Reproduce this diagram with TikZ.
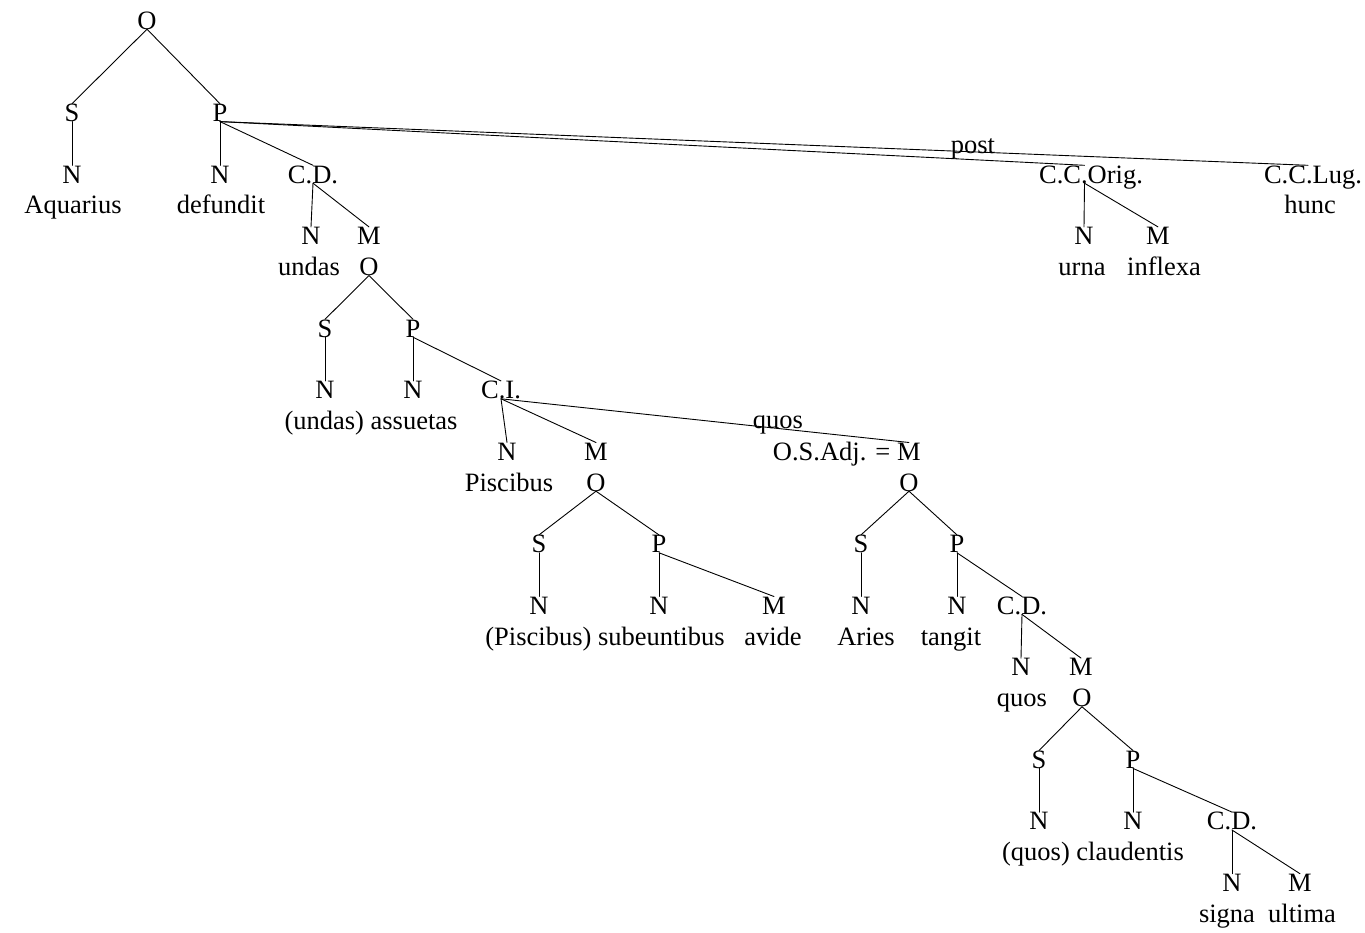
\documentclass[tikz,border=0pt]{standalone}
\usepackage{fontspec}
\setmainfont{Liberation Serif}
\begin{document}
\begin{tikzpicture}[x=1pt, y=-1pt,
  every node/.style={font=\fontsize{26.5pt}{30pt}\selectfont},
  tn/.style={inner sep=0pt, anchor=base, text height=17.5pt, text depth=0pt},
  wd/.style={inner sep=0pt, anchor=base},
  br/.style={line width=0.9pt, line cap=round}]
\useasboundingbox (0,0) rectangle (1365,932);

% --- main clause ---
\node[tn] (o0) at (147,29) {O};
\node[tn] (s1) at (72,121.4) {S};
\node[tn] (p1) at (220,121.4) {P};
\node[tn] (n1) at (72,183) {N};
\node[tn] (n2) at (220,183) {N};
\node[tn] (cd1) at (313,183) {C.D.};
\node[tn] (cco) at (1091,183) {C.C.Orig.};
\node[tn] (ccl) at (1313,183) {C.C.Lug.};
\node[wd] (w-aquarius) at (73,213.8) {Aquarius};
\node[wd] (w-defundit) at (221,213.8) {defundit};
\node[wd] (w-hunc) at (1310,213.8) {hunc};
\node[wd] (l-post) at (973,153) {post};

\node[tn] (n3) at (311,244.6) {N};
\node[tn] (m1) at (369,244.6) {M};
\node[tn] (n4) at (1084,244.6) {N};
\node[tn] (m2) at (1158,244.6) {M};
\node[wd] (w-undas) at (309,275.4) {undas};
\node[wd] (w-urna) at (1082,275.4) {urna};
\node[wd] (w-inflexa) at (1164,275.4) {inflexa};

% --- clause under C.D. ---
\node[tn] (o2) at (369,275.4) {O};
\node[tn] (s2) at (325,337) {S};
\node[tn] (p2) at (413,337) {P};
\node[tn] (n5) at (325,398.6) {N};
\node[tn] (n6) at (413,398.6) {N};
\node[tn] (ci) at (501,398.6) {C.I.};
\node[wd] (w-assuetas) at (371,429.4) {(undas) assuetas};
\node[wd] (l-quos) at (778,428) {quos};

\node[tn] (n7) at (507,460.2) {N};
\node[tn] (m3) at (596,460.2) {M};
\node[tn] (osm) at (909,460.2) {M};
\node[wd, anchor=base east] (osadj) at ([xshift=-6.6pt]osm.base west) {O.S.Adj. =};
\node[wd] (w-piscibus) at (509,491) {Piscibus};

% --- clause under M (C.I.) ---
\node[tn] (o3) at (596,491) {O};
\node[tn] (s3) at (539,552.6) {S};
\node[tn] (p3) at (659,552.6) {P};
\node[tn] (n8) at (539,614.2) {N};
\node[tn] (n9) at (659,614.2) {N};
\node[tn] (m4) at (774,614.2) {M};
\node[wd] (w-subeuntibus) at (605,645) {(Piscibus) subeuntibus};
\node[wd] (w-avide) at (773,645) {avide};

% --- adjective clause ---
\node[tn] (o4) at (909,491) {O};
\node[tn] (s4) at (861,552.6) {S};
\node[tn] (p4) at (957,552.6) {P};
\node[tn] (n10) at (861,614.2) {N};
\node[tn] (n11) at (957,614.2) {N};
\node[tn] (cd2) at (1022,614.2) {C.D.};
\node[wd] (w-aries) at (866,645) {Aries};
\node[wd] (w-tangit) at (951,645) {tangit};
\node[tn] (n12) at (1021,675.8) {N};
\node[tn] (m5) at (1081,675.8) {M};
\node[wd] (w-quos) at (1022,706.6) {quos};

% --- clause under M (C.D.) ---
\node[tn] (o5) at (1082,706.6) {O};
\node[tn] (s5) at (1039,768.2) {S};
\node[tn] (p5) at (1133,768.2) {P};
\node[tn] (n13) at (1039,829.8) {N};
\node[tn] (n14) at (1133,829.8) {N};
\node[tn] (cd3) at (1232,829.8) {C.D.};
\node[wd] (w-claudentis) at (1093,860.6) {(quos) claudentis};
\node[tn] (n15) at (1232,891.4) {N};
\node[tn] (m6) at (1300,891.4) {M};
\node[wd] (w-signa) at (1227,922.2) {signa};
\node[wd] (w-ultima) at (1302,922.2) {ultima};

% --- branches ---
\draw[br] (o0.south) -- (s1.north);
\draw[br] (o0.south) -- (p1.north);
\draw[br] (s1.south) -- (n1.north);
\draw[br] (p1.south) -- (n2.north);
\draw[br] (p1.south) -- (cd1.north);
\draw[br] (p1.south) -- ([xshift=-6.5pt]cco.north);
\draw[br] (p1.south) -- ([xshift=-5pt]ccl.north);
\draw[br] (cd1.south) -- (n3.north);
\draw[br] (cd1.south) -- (m1.north);
\draw[br] ([xshift=-6.5pt]cco.south) -- (n4.north);
\draw[br] ([xshift=-6.5pt]cco.south) -- (m2.north);

\draw[br] (o2.south) -- (s2.north);
\draw[br] (o2.south) -- (p2.north);
\draw[br] (s2.south) -- (n5.north);
\draw[br] (p2.south) -- (n6.north);
\draw[br] (p2.south) -- (ci.north);
\draw[br] (ci.south) -- (n7.north);
\draw[br] (ci.south) -- (m3.north);
\draw[br] (ci.south) -- (osm.north);

\draw[br] (o3.south) -- (s3.north);
\draw[br] (o3.south) -- (p3.north);
\draw[br] (s3.south) -- (n8.north);
\draw[br] (p3.south) -- (n9.north);
\draw[br] (p3.south) -- (m4.north);

\draw[br] (o4.south) -- (s4.north);
\draw[br] (o4.south) -- (p4.north);
\draw[br] (s4.south) -- (n10.north);
\draw[br] (p4.south) -- (n11.north);
\draw[br] (p4.south) -- (cd2.north);
\draw[br] (cd2.south) -- (n12.north);
\draw[br] (cd2.south) -- (m5.north);

\draw[br] (o5.south) -- (s5.north);
\draw[br] (o5.south) -- (p5.north);
\draw[br] (s5.south) -- (n13.north);
\draw[br] (p5.south) -- (n14.north);
\draw[br] (p5.south) -- (cd3.north);
\draw[br] (cd3.south) -- (n15.north);
\draw[br] (cd3.south) -- (m6.north);
\end{tikzpicture}
\end{document}
